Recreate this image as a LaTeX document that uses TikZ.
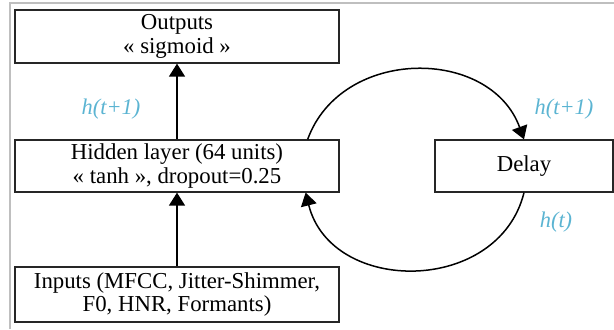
\documentclass[tikz,border=0pt]{standalone}
\usepackage{fontspec}
\setmainfont{Liberation Serif}
\usetikzlibrary{arrows.meta,positioning}
\definecolor{hcyan}{RGB}{91,180,210}

\begin{document}
\begin{tikzpicture}[x=0.5pt,y=0.5pt,
  box/.style={draw=black!85, line width=0.65pt, align=center, inner sep=0pt,
    font=\fontsize{11.4}{11.6}\selectfont},
  link/.style={line width=0.75pt, -{Triangle[length=6.5pt,width=8pt]}},
  lbl/.style={text=hcyan, font=\fontsize{11.2}{12}\selectfont\itshape}]
  \useasboundingbox (0,0) rectangle (614,329);
  \draw[black!25, line width=1pt] (10,0) -- (10,326) -- (614,326);

  % layers
  \node[box, minimum width=162pt, minimum height=26.5pt] (outputs) at (177,292.5) {Outputs\\« sigmoid »};
  \node[box, minimum width=162pt, minimum height=26pt] (hidden) at (177,163) {Hidden layer (64 units)\\« tanh », dropout=0.25};
  \node[box, minimum width=162pt, minimum height=27.5pt] (inputs) at (177,34.5) {Inputs (MFCC, Jitter-Shimmer,\\F0, HNR, Formants)};
  \node[box, minimum width=89pt, minimum height=26pt] (delay) at (524,163) {Delay};

  % connections
  \draw[link] (inputs.north) -- (hidden.south);
  \draw[link] (hidden.north) -- (outputs.south);
  \draw[link] ([xshift=-16pt]hidden.north east) to[out=70,in=110,looseness=1.17] (delay.north);
  \draw[link] (delay.south) to[out=-104,in=-76,looseness=1.24] ([xshift=-17pt]hidden.south east);

  % state labels
  \node[lbl] (hout) at (111,220) {h(t+1)};
  \node[lbl] (hnext) at (564,220) {h(t+1)};
  \node[lbl] (hprev) at (556,107) {h(t)};
\end{tikzpicture}
\end{document}
